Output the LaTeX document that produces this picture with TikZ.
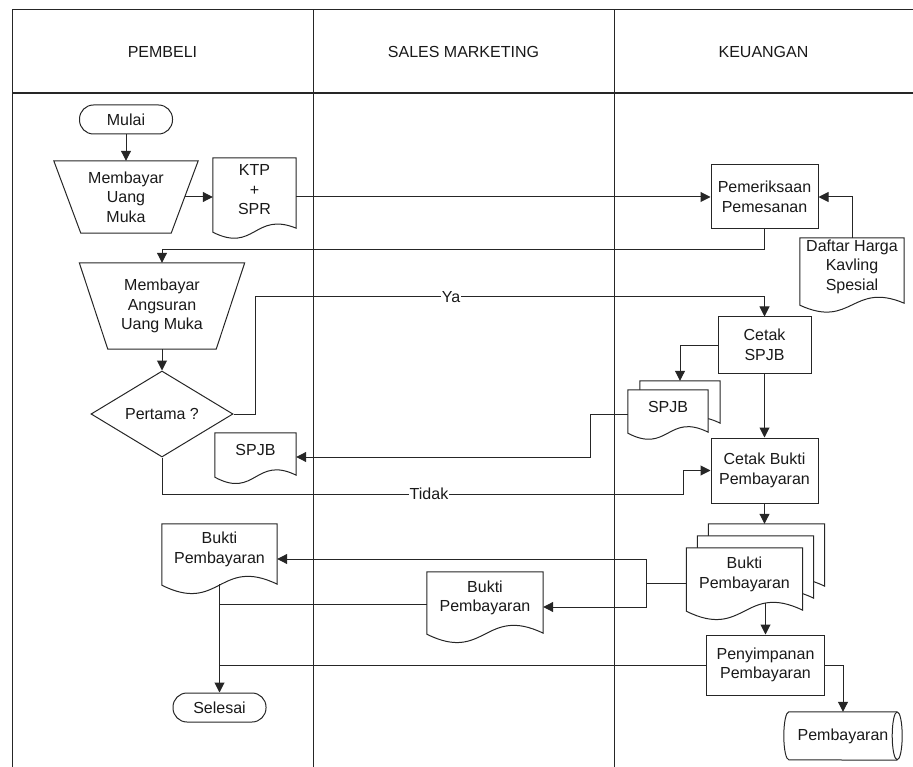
\documentclass[tikz,border=0pt]{standalone}
\usepackage{fontspec}
\setmainfont{Liberation Sans}
\usetikzlibrary{arrows.meta,calc,shapes.geometric,backgrounds}

% document symbol: straight top and sides, wavy bottom edge
% #1 node, #2/#3 page offset, #4 extra depth below node, #5 wave strength, #6 right-end lift
\newcommand\docshape[6]{%
  \draw[docline] ($(#1.north west)+(#2,#3)$) -- ($(#1.north east)+(#2,#3)$)
    -- ($(#1.south east)+(#2,#3+#4-#6)$)
    .. controls ($(#1.south)+(#2,#3+#4-#5)$) and ($(#1.south)+(#2,#3+#4+#5)$)
    .. ($(#1.south west)+(#2,#3+#4)$) -- cycle;}
% manual operation symbol: wide top, narrow bottom
\newcommand\trapshape[2]{%
  \draw[ln] (#1.north west) -- (#1.north east) -- ($(#1.south east)+(-#2,0)$)
    -- ($(#1.south west)+(#2,0)$) -- cycle;}
% direct access storage: horizontal drum, full ellipse on the right
\newcommand\drumshape[1]{%
  \draw[ln] ($(#1.north east)+(-5,0)$) arc[start angle=90, end angle=450, x radius=5pt, y radius=24pt];
  \draw[ln] ($(#1.north east)+(-5,0)$) -- ($(#1.north west)+(5,0)$)
    arc[start angle=90, end angle=270, x radius=5pt, y radius=24pt]
    -- ($(#1.south east)+(-5,0)$);}

\begin{document}
\begin{tikzpicture}[x=1pt,y=-1pt,
  every node/.style={font=\fontsize{16}{19.5}\selectfont, align=center, text=black!90},
  ln/.style={line width=1pt, draw=black!85},
  arr/.style={ln, -{Triangle[length=10pt,width=10pt]}},
  proc/.style={draw=black!85, line width=1pt, rectangle, inner sep=0pt},
  term/.style={draw=black!85, line width=1pt, rectangle, rounded corners=14pt,
    inner sep=0pt, minimum width=93pt, minimum height=29pt},
  docn/.style={rectangle, inner sep=0pt},
  docline/.style={draw=black!85, line width=1pt, fill=white},
  lbl/.style={fill=white, inner sep=1pt},
]
\useasboundingbox (0,0) rectangle (913,767);

% swimlane frame
\draw[ln] (12,767) -- (12,10) -- (913,10);
\draw[ln, line width=1.3pt] (12,93) -- (913,93);
\draw[ln] (313,10) -- (313,767);
\draw[ln] (614,10) -- (614,767);
\node (hP) at (162.5,52) {PEMBELI};
\node (hS) at (463.5,52) {SALES MARKETING};
\node (hK) at (763.5,52) {KEUANGAN};

% symbols
\node[term] (mulai) at (126,119.5) {Mulai};
\node[docn, minimum width=144pt, minimum height=72pt] (m1) at (126,197) {Membayar\\Uang\\Muka};
\node[docn, minimum width=83pt, minimum height=64pt] (ktp) at (254.5,190) {KTP\\+\\SPR};
\node[proc, minimum width=107pt, minimum height=64pt] (pm) at (764.5,197) {Pemeriksaan\\Pemesanan};
\node[docn, minimum width=104pt, minimum height=57pt] (dh) at (852,266.5) {Daftar Harga\\Kavling\\Spesial};
\node[docn, minimum width=165pt, minimum height=86pt] (m2) at (162,306) {Membayar\\Angsuran\\Uang Muka};
\node[diamond, draw=black!85, line width=1pt, inner sep=0pt,
  minimum width=142pt, minimum height=86pt] (dia) at (162,414) {Pertama ?};
\node[proc, minimum width=93pt, minimum height=56pt] (cs) at (764.5,345) {Cetak\\SPJB};
\node[docn, minimum width=80pt, minimum height=33pt] (spjbc) at (668,406.5) {SPJB};
\node[docn, minimum width=81pt, minimum height=34pt] (spjbA) at (255.5,450) {SPJB};
\node[proc, minimum width=107pt, minimum height=65pt] (cb) at (764.5,470.5) {Cetak Bukti\\Pembayaran};
\node[docn, minimum width=116pt, minimum height=53pt] (bukti) at (744.5,574.5) {Bukti\\Pembayaran};
\node[docn, minimum width=115pt, minimum height=51pt] (bkA) at (219.5,549.5) {Bukti\\Pembayaran};
\node[docn, minimum width=116pt, minimum height=52pt] (bkS) at (485,598) {Bukti\\Pembayaran};
\node[proc, minimum width=118pt, minimum height=60pt] (ps) at (765.5,665) {Penyimpanan\\Pembayaran};
\node[term] (sel) at (219.5,707.5) {Selesai};
\node[docn, minimum width=118pt, minimum height=48pt] (pb) at (843,736) {Pembayaran};

\trapshape{m1}{27}
\trapshape{m2}{28.5}
\drumshape{pb}

\begin{pgfonlayer}{background}
  \docshape{ktp}{0}{0}{10}{21}{4}
  \docshape{dh}{0}{0}{10}{24}{2}
  \docshape{spjbA}{0}{0}{10}{22}{2}
  \docshape{spjbc}{12}{-9}{10}{21}{1}
  \docshape{spjbc}{0}{0}{10}{21}{1}
  \docshape{bukti}{22}{-24}{10}{29}{1}
  \docshape{bukti}{11}{-12}{10}{29}{1}
  \docshape{bukti}{0}{0}{10}{29}{1}
  \docshape{bkA}{0}{0}{10}{29}{1}
  \docshape{bkS}{0}{0}{10}{29}{1}
\end{pgfonlayer}

% flow
\draw[arr] (mulai) -- (m1);
\draw[arr] ($(m1.east)+(-13.5,0)$) -- (m1.east -| ktp.west);
\draw[arr] (pm.west -| ktp.east) -- (pm.west);
\draw[arr] (dh.north) |- (pm.east);
\draw[arr] (pm.south) -- ++(0,20) -| (m2.north);
\draw[arr] (m2.south) -- (dia.north);

\draw[arr] (dia.east) -- ++(22,0) |- ($(cs.north)+(0,-20)$) -- (cs.north);
\node[lbl] (ya) at (451,297) {Ya};

\coordinate (spjbBack) at ($(spjbc.north)+(12,-9)$);
\draw[arr] (cs.west) -| (spjbBack);
\draw[arr] (cs.south) -- (cb.north);
\draw[arr] ($(spjbc.west)+(0,7.5)$) -- ++(-37,0) |- ($(spjbA.east)+(0,7)$);

\draw[arr] (dia.south) -- ++(0,37) -- ++(521,0) |- (cb.west);
\node[lbl] (tidak) at (429,494) {Tidak};

\coordinate (bkTop) at ($(bukti.north)+(22,-24)$);
\draw[arr] (cb.south) -- (cb.south |- bkTop);

\coordinate (bj) at ($(bukti.west)+(-39.5,9)$);
\draw[ln] ($(bukti.west)+(0,9)$) -- (bj);
\draw[arr] (bj) |- ($(bkA.east)+(0,9.5)$);
\draw[arr] (bj) |- ($(bkS.east)+(0,9)$);

\coordinate (sL) at ($(bkS.west)+(0,6)$);
\draw[ln] (sL) -- (sL -| bkA.south);
\draw[ln] (ps.west) -- (ps.west -| bkA.south);
\draw[arr] ($(bkA.south)+(0,9)$) -- (sel.north);

\coordinate (bb) at (ps.north |- bukti.south);
\draw[arr] ($(bb)+(0,2)$) -- (ps.north);
\draw[arr] (ps.east) -| (pb.north);
\end{tikzpicture}
\end{document}
